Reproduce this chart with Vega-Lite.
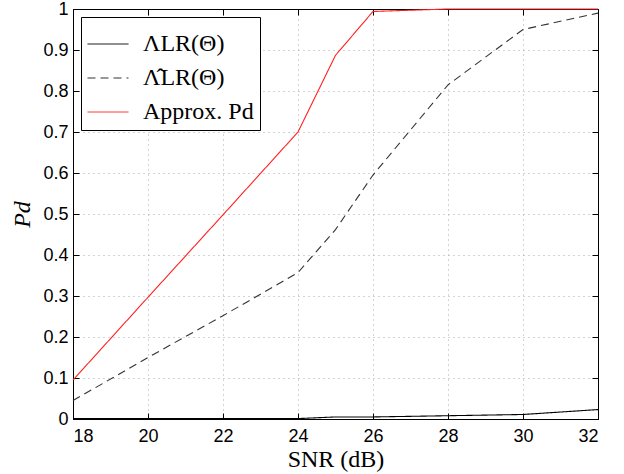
{
  "$schema": "https://vega.github.io/schema/vega-lite/v6.json",
  "width": 525,
  "height": 410,
  "autosize": {"type": "none"},
  "padding": {"left": 73, "top": 9, "right": 26, "bottom": 55},
  "background": "white",
  "config": {
    "view": {"stroke": "black", "strokeWidth": 1},
    "axis": {
      "labelFont": "Liberation Sans",
      "labelFontSize": 18,
      "labelColor": "black",
      "titleFont": "Liberation Serif",
      "titleFontSize": 24,
      "titleFontWeight": "normal",
      "titleColor": "black",
      "domainColor": "black",
      "tickColor": "black",
      "gridColor": "#a8a8a8",
      "gridDash": [1, 4],
      "gridWidth": 1
    },
    "legend": {
      "labelFont": "Liberation Serif",
      "labelFontSize": 24,
      "labelColor": "black",
      "labelOffset": 14,
      "strokeColor": "black",
      "fillColor": "white",
      "padding": 6,
      "symbolType": "stroke",
      "symbolSize": 1681,
      "symbolStrokeWidth": 1,
      "rowPadding": 1
    }
  },
  "data": {
    "values": [
      {"snr": 18, "series": "ΛLR(Θ)", "pd": 0.001},
      {"snr": 20, "series": "ΛLR(Θ)", "pd": 0.001},
      {"snr": 22, "series": "ΛLR(Θ)", "pd": 0.001},
      {"snr": 24, "series": "ΛLR(Θ)", "pd": 0.001},
      {"snr": 25, "series": "ΛLR(Θ)", "pd": 0.005},
      {"snr": 26, "series": "ΛLR(Θ)", "pd": 0.005},
      {"snr": 28, "series": "ΛLR(Θ)", "pd": 0.008},
      {"snr": 30, "series": "ΛLR(Θ)", "pd": 0.011},
      {"snr": 32, "series": "ΛLR(Θ)", "pd": 0.023},
      {"snr": 18, "series": "Λ̂LR(Θ)", "pd": 0.045},
      {"snr": 20, "series": "Λ̂LR(Θ)", "pd": 0.15},
      {"snr": 22, "series": "Λ̂LR(Θ)", "pd": 0.252},
      {"snr": 24, "series": "Λ̂LR(Θ)", "pd": 0.357},
      {"snr": 25, "series": "Λ̂LR(Θ)", "pd": 0.462},
      {"snr": 26, "series": "Λ̂LR(Θ)", "pd": 0.595},
      {"snr": 28, "series": "Λ̂LR(Θ)", "pd": 0.815},
      {"snr": 30, "series": "Λ̂LR(Θ)", "pd": 0.95},
      {"snr": 32, "series": "Λ̂LR(Θ)", "pd": 0.99},
      {"snr": 18, "series": "Approx. Pd", "pd": 0.095},
      {"snr": 20, "series": "Approx. Pd", "pd": 0.297},
      {"snr": 22, "series": "Approx. Pd", "pd": 0.498},
      {"snr": 24, "series": "Approx. Pd", "pd": 0.7},
      {"snr": 25, "series": "Approx. Pd", "pd": 0.887},
      {"snr": 26, "series": "Approx. Pd", "pd": 0.994},
      {"snr": 28, "series": "Approx. Pd", "pd": 1.0},
      {"snr": 30, "series": "Approx. Pd", "pd": 1.0},
      {"snr": 32, "series": "Approx. Pd", "pd": 1.0}
    ]
  },
  "layer": [
    {
      "mark": {"type": "line", "strokeWidth": 1.1, "clip": false},
      "encoding": {
        "x": {
          "field": "snr", "type": "quantitative",
          "scale": {"domain": [18, 32], "nice": false, "zero": false},
          "axis": {"values": [18, 20, 22, 24, 26, 28, 30, 32], "title": "SNR (dB)", "tickSize": -6, "labelPadding": 14, "titlePadding": 2, "grid": true}
        },
        "y": {
          "field": "pd", "type": "quantitative",
          "scale": {"domain": [0, 1], "nice": false},
          "axis": {"values": [0, 0.1, 0.2, 0.3, 0.4, 0.5, 0.6, 0.7, 0.8, 0.9, 1], "format": "~g", "title": "Pd", "titleFontStyle": "italic", "tickSize": -6, "labelPadding": 11, "titlePadding": 8, "grid": true}
        },
        "color": {
          "field": "series", "type": "nominal", "title": null,
          "sort": ["ΛLR(Θ)", "Λ̂LR(Θ)", "Approx. Pd"],
          "scale": {"domain": ["ΛLR(Θ)", "Λ̂LR(Θ)", "Approx. Pd"], "range": ["#000000", "#333333", "#ff2020"]},
          "legend": {"orient": "top-left", "offset": 8}
        },
        "strokeDash": {
          "field": "series", "type": "nominal", "title": null,
          "sort": ["ΛLR(Θ)", "Λ̂LR(Θ)", "Approx. Pd"],
          "scale": {"domain": ["ΛLR(Θ)", "Λ̂LR(Θ)", "Approx. Pd"], "range": [[1, 0], [8, 5], [1, 0]]},
          "legend": {"orient": "top-left", "offset": 8}
        }
      }
    },
    {
      "mark": {"type": "line", "opacity": 0},
      "encoding": {
        "x": {
          "field": "snr", "type": "quantitative",
          "axis": {"orient": "top", "values": [18, 20, 22, 24, 26, 28, 30, 32], "labels": false, "title": null, "tickSize": -6, "grid": false}
        },
        "y": {
          "field": "pd", "type": "quantitative",
          "axis": {"orient": "right", "values": [0, 0.1, 0.2, 0.3, 0.4, 0.5, 0.6, 0.7, 0.8, 0.9, 1], "labels": false, "title": null, "tickSize": -6, "grid": false}
        },
        "detail": {"field": "series"}
      }
    }
  ],
  "resolve": {"axis": {"x": "independent", "y": "independent"}}
}
